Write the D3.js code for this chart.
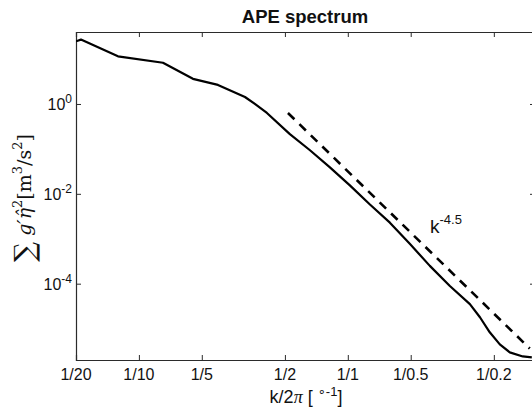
<!DOCTYPE html>
<html>
<head>
<meta charset="utf-8">
<script src="https://cdn.jsdelivr.net/npm/d3@7"></script>
<style>
  body { margin: 0; background: #fff; }
  svg text { font-family: "Liberation Sans", Arial, sans-serif; }
</style>
</head>
<body>
<svg id="chart" width="532" height="412"></svg>
<script>
// wavenumber k/2pi [1/deg] and spectrum values
const kValues = [0.05, 0.0528, 0.0794, 0.1304, 0.1814, 0.239, 0.3219, 0.359, 0.41, 0.528,
    0.659, 0.821, 1.023, 1.276, 1.59, 1.98, 2.47, 3.08, 3.84, 4.29, 4.78, 5.34, 5.96, 6.88, 7.6];
const apeValues = [24.8, 27.1, 11.5, 8.28, 3.63, 2.66, 1.43, 1.0, 0.63, 0.213,
    0.0933, 0.0389, 0.0154, 0.00577, 0.00228, 7.73e-4, 2.49e-4, 8.87e-5, 3.51e-5, 1.79e-5,
    8.28e-6, 4.46e-6, 2.96e-6, 2.40e-6, 2.29e-6];

// k^-4.5 reference line end points
const refK = [0.517, 7.43];
const refValues = [0.629, 3.6e-6];

const xTicks = [0.05, 0.1, 0.2, 0.5, 1, 2, 5];
const xTickLabels = ["1/20", "1/10", "1/5", "1/2", "1/1", "1/0.5", "1/0.2"];
const yTicks = [1, 1e-2, 1e-4];
const yTickExps = ["0", "-2", "-4"];

const svg = d3.select("#chart");
const mLeft = 76, mRight = 535, mTop = 32, mBottom = 360;

const x = d3.scaleLog().domain([0.05, 7.87]).range([mLeft, mRight]);
const y = d3.scaleLog().domain([2e-6, 40]).range([mBottom, mTop]);

svg.append("clipPath").attr("id", "clip")
    .append("rect").attr("x", mLeft).attr("y", mTop)
    .attr("width", mRight - mLeft).attr("height", mBottom - mTop);

const axisColor = "#2b2b2b";

// box axes, ticks pointing inward
const gBottom = svg.append("g").attr("transform", `translate(0,${mBottom})`)
    .call(d3.axisBottom(x).tickValues(xTicks).tickSize(-5).tickFormat(""));
const gTop = svg.append("g").attr("transform", `translate(0,${mTop})`)
    .call(d3.axisTop(x).tickValues(xTicks).tickSize(-5).tickFormat(""));
const gLeft = svg.append("g").attr("transform", `translate(${mLeft},0)`)
    .call(d3.axisLeft(y).tickValues(yTicks).tickSize(-5).tickFormat(""));
const gRight = svg.append("g").attr("transform", `translate(${mRight},0)`)
    .call(d3.axisRight(y).tickValues(yTicks).tickSize(-5).tickFormat(""));

[gBottom, gTop, gLeft, gRight].forEach(g => {
    g.select(".domain").attr("stroke", axisColor).attr("stroke-width", 1.2);
    g.selectAll(".tick line").attr("stroke", axisColor).attr("stroke-width", 1);
});

// x tick labels
svg.selectAll("text.xtick")
    .data(xTicks)
    .enter()
    .append("text")
    .attr("class", "xtick")
    .attr("x", d => x(d))
    .attr("y", mBottom + 20)
    .attr("text-anchor", "middle")
    .style("font-size", "16px")
    .style("fill", "#111")
    .text((d, i) => xTickLabels[i]);

// y tick labels 10^n
const yLab = svg.selectAll("text.ytick")
    .data(yTicks)
    .enter()
    .append("text")
    .attr("class", "ytick")
    .attr("x", mLeft - 4)
    .attr("y", d => y(d) + 6)
    .attr("text-anchor", "end")
    .style("font-size", "16px")
    .style("fill", "#111");
yLab.append("tspan").text("10");
yLab.append("tspan").attr("dy", -7).style("font-size", "12px").text((d, i) => yTickExps[i]);

const line = d3.line().x(d => x(d[0])).y(d => y(d[1]));

const plot = svg.append("g").attr("clip-path", "url(#clip)");

plot.append("path")
    .datum(refK.map((k, i) => [k, refValues[i]]))
    .attr("d", line)
    .attr("fill", "none")
    .attr("stroke", "#000")
    .attr("stroke-width", 2.6)
    .attr("stroke-dasharray", "9,7");

plot.append("path")
    .datum(kValues.map((k, i) => [k, apeValues[i]]))
    .attr("d", line)
    .attr("fill", "none")
    .attr("stroke", "#000")
    .attr("stroke-width", 2.2)
    .attr("stroke-linejoin", "round");

// k^-4.5 annotation
const ann = svg.append("text")
    .attr("x", 430)
    .attr("y", 233)
    .style("font-size", "19px")
    .style("fill", "#111");
ann.append("tspan").text("k");
ann.append("tspan").attr("dy", -9).style("font-size", "13px").text("-4.5");

// title
svg.append("text")
    .attr("x", 305)
    .attr("y", 23)
    .attr("text-anchor", "middle")
    .style("font-size", "18.5px")
    .style("font-weight", "bold")
    .style("fill", "#111")
    .text("APE spectrum");

// x axis label
const xl = svg.append("text")
    .attr("x", 306)
    .attr("y", 403)
    .attr("text-anchor", "middle")
    .style("font-size", "18px")
    .style("fill", "#111");
xl.append("tspan").text("k/2");
xl.append("tspan").style("font-family", "Liberation Serif, serif").style("font-style", "italic").text("π");
xl.append("tspan").text(" [ ");
xl.append("tspan").attr("dy", -7).style("font-size", "13px")
    .style("font-family", "DejaVu Sans, sans-serif").text("∘");
xl.append("tspan").style("font-size", "13px").text("-1");
xl.append("tspan").attr("dy", 7).text("]");

// y axis label
const yl = svg.append("text")
    .attr("transform", "translate(31,198) rotate(-90)")
    .attr("text-anchor", "middle")
    .style("font-family", "DejaVu Serif, serif")
    .style("font-size", "19px")
    .style("fill", "#111");
yl.append("tspan").style("font-size", "28px").attr("dy", 3).text("∑");
yl.append("tspan").attr("dy", -3).style("font-style", "italic").text(" g′η̂");
yl.append("tspan").attr("dy", -9).style("font-size", "13px").text("2");
yl.append("tspan").attr("dy", 9).text("[m");
yl.append("tspan").attr("dy", -9).style("font-size", "13px").text("3");
yl.append("tspan").attr("dy", 9).text("/s");
yl.append("tspan").attr("dy", -9).style("font-size", "13px").text("2");
yl.append("tspan").attr("dy", 9).text("]");
</script>
</body>
</html>
